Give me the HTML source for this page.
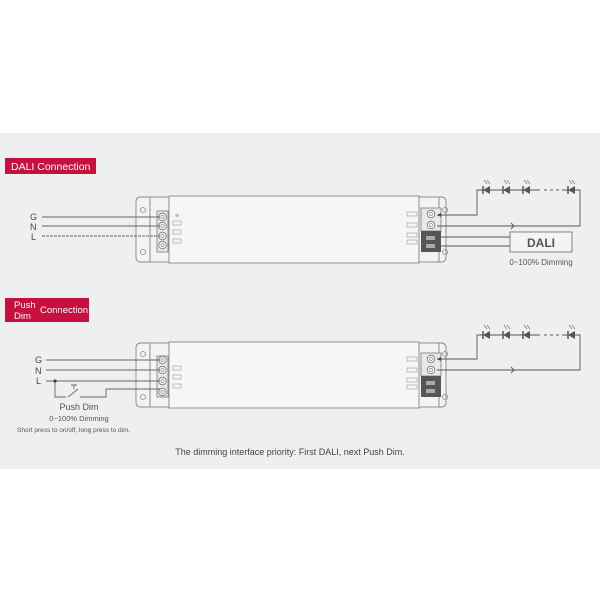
<!DOCTYPE html>
<html><head><style>
html,body{margin:0;padding:0;background:#fff;}
svg{display:block;font-family:"Liberation Sans",sans-serif;}
</style></head><body>
<svg width="600" height="600" viewBox="0 0 600 600" xmlns="http://www.w3.org/2000/svg">
<rect x="0" y="133" width="600" height="336" fill="#eeeff0"/>
<defs>
<g id="led">
<polygon points="4,-4 4,4 -3,0" fill="#555"/>
<line x1="-3" y1="-4" x2="-3" y2="4" stroke="#555" stroke-width="1.5"/>
<line x1="1" y1="-6" x2="-2" y2="-10" stroke="#777" stroke-width="0.7"/>
<line x1="4" y1="-6" x2="1" y2="-10" stroke="#777" stroke-width="0.7"/>
</g>
<g id="screw"><circle r="3.8" fill="#f4f4f4" stroke="#777" stroke-width="0.8"/><circle r="1.6" fill="none" stroke="#888" stroke-width="0.6"/></g>
</defs>

<!-- DALI section -->
<rect x="5" y="158" width="91" height="16" fill="#c8103e"/>
<text x="11" y="170" font-size="10.5" fill="#fff">DALI Connection</text>

<g stroke="#888" stroke-width="0.9" fill="#f3f3f4">
<path d="M150 197 H141 Q136 197 136 202 V257 Q136 262 141 262 H150 Z"/>
<rect x="150" y="197" width="19" height="65"/>
<rect x="169" y="196" width="250" height="67" fill="#f6f6f7"/>
<rect x="419" y="197" width="20" height="65"/>
<path d="M439 197 H441 Q446 197 446 202 V257 Q446 262 441 262 H439 Z"/>
<rect x="157" y="211" width="11" height="41" fill="#e8e8e8"/>
<rect x="421" y="208" width="20" height="23" fill="#e8e8e8"/>
</g>
<rect x="421" y="231" width="20" height="21" fill="#555"/>
<rect x="426" y="236" width="9" height="4" fill="#aaa"/><rect x="426" y="244" width="9" height="4" fill="#aaa"/>
<circle cx="143" cy="210" r="2.5" fill="none" stroke="#888" stroke-width="0.8"/>
<circle cx="143" cy="252" r="2.5" fill="none" stroke="#888" stroke-width="0.8"/>
<circle cx="445" cy="210" r="2.5" fill="none" stroke="#888" stroke-width="0.8"/>
<circle cx="445" cy="252" r="2.5" fill="none" stroke="#888" stroke-width="0.8"/>
<use href="#screw" x="162.5" y="217"/><use href="#screw" x="162.5" y="226"/><use href="#screw" x="162.5" y="236"/><use href="#screw" x="162.5" y="245"/>
<use href="#screw" x="431" y="214"/><use href="#screw" x="431" y="225"/>
<g fill="none" stroke="#999" stroke-width="0.6">
<rect x="173" y="221" width="8" height="4"/><rect x="173" y="230" width="8" height="4"/><rect x="173" y="239" width="8" height="4"/>
<rect x="407" y="212" width="10" height="4"/><rect x="407" y="223" width="10" height="4"/><rect x="407" y="233" width="10" height="4"/><rect x="407" y="240" width="10" height="4"/>
</g>
<text x="175" y="217" font-size="5" fill="#888">⊕</text>
<g stroke="#666" stroke-width="0.9">
<line x1="42" y1="217" x2="160" y2="217"/>
<line x1="42" y1="226" x2="160" y2="226"/>
<line x1="42" y1="236" x2="160" y2="236" stroke-dasharray="3,1"/>
</g>
<text x="30" y="220" font-size="9" fill="#444">G</text>
<text x="30" y="230" font-size="9" fill="#444">N</text>
<text x="31" y="240" font-size="9" fill="#444">L</text>
<g stroke="#555" stroke-width="0.9" fill="none">
<path d="M437 215 H477 V190 H540"/>
<path d="M544 190 H560" stroke-dasharray="3,3"/>
<path d="M562 190 H580 V226 H437"/>
<line x1="441" y1="237" x2="510" y2="237"/><line x1="441" y1="246" x2="510" y2="246"/>
<path d="M511 223 L514 226 L511 229"/>
</g>
<polygon points="437,215 441,213 441,217" fill="#444"/>
<use href="#led" x="486" y="190"/>
<use href="#led" x="506" y="190"/>
<use href="#led" x="526" y="190"/>
<use href="#led" x="571" y="190"/>
<rect x="510" y="232" width="62" height="20" fill="#f4f4f5" stroke="#777" stroke-width="0.9"/>
<text x="541" y="247" font-size="12" font-weight="bold" fill="#555" text-anchor="middle">DALI</text>
<text x="541" y="265" font-size="8" fill="#555" text-anchor="middle">0~100% Dimming</text>

<!-- Push Dim section -->
<rect x="5" y="298" width="84" height="24" fill="#c8103e"/>
<text x="14" y="308" font-size="9.5" fill="#fff">Push</text>
<text x="14" y="319" font-size="9.5" fill="#fff">Dim</text>
<text x="40" y="313" font-size="9.5" fill="#fff">Connection</text>

<g stroke="#888" stroke-width="0.9" fill="#f3f3f4">
<path d="M150 343 H141 Q136 343 136 348 V402 Q136 407 141 407 H150 Z"/>
<rect x="150" y="343" width="19" height="64"/>
<rect x="169" y="342" width="250" height="66" fill="#f6f6f7"/>
<rect x="419" y="343" width="20" height="64"/>
<path d="M439 343 H441 Q446 343 446 348 V402 Q446 407 441 407 H439 Z"/>
<rect x="157" y="356" width="11" height="41" fill="#e8e8e8"/>
<rect x="421" y="353" width="20" height="23" fill="#e8e8e8"/>
</g>
<rect x="421" y="376" width="20" height="21" fill="#555"/>
<rect x="426" y="381" width="9" height="4" fill="#aaa"/><rect x="426" y="389" width="9" height="4" fill="#aaa"/>
<circle cx="143" cy="354" r="2.5" fill="none" stroke="#888" stroke-width="0.8"/>
<circle cx="143" cy="397" r="2.5" fill="none" stroke="#888" stroke-width="0.8"/>
<circle cx="445" cy="354" r="2.5" fill="none" stroke="#888" stroke-width="0.8"/>
<circle cx="445" cy="397" r="2.5" fill="none" stroke="#888" stroke-width="0.8"/>
<use href="#screw" x="162.5" y="360"/><use href="#screw" x="162.5" y="370"/><use href="#screw" x="162.5" y="381"/><use href="#screw" x="162.5" y="392"/>
<use href="#screw" x="431" y="359"/><use href="#screw" x="431" y="370"/>
<g fill="none" stroke="#999" stroke-width="0.6">
<rect x="173" y="366" width="8" height="4"/><rect x="173" y="375" width="8" height="4"/><rect x="173" y="384" width="8" height="4"/>
<rect x="407" y="357" width="10" height="4"/><rect x="407" y="368" width="10" height="4"/><rect x="407" y="378" width="10" height="4"/><rect x="407" y="385" width="10" height="4"/>
</g>
<g stroke="#666" stroke-width="0.9" fill="none">
<line x1="46" y1="360" x2="160" y2="360"/>
<line x1="46" y1="370" x2="160" y2="370"/>
<line x1="46" y1="381" x2="160" y2="381"/>
<path d="M55 381 V397 H66"/>
<path d="M68 397 L78 389"/>
<path d="M80 397 H106 V389 H160"/>
<path d="M74 389 V385 M71 385 H77"/>
</g>
<circle cx="55" cy="381" r="1.6" fill="#444"/>
<text x="35" y="363" font-size="9" fill="#444">G</text>
<text x="35" y="374" font-size="9" fill="#444">N</text>
<text x="36" y="384" font-size="9" fill="#444">L</text>
<text x="79" y="410" font-size="9" fill="#555" text-anchor="middle">Push Dim</text>
<text x="79" y="421" font-size="7.5" fill="#555" text-anchor="middle">0~100% Dimming</text>
<text x="17" y="432" font-size="6.5" fill="#555">Short press to on/off, long press to dim.</text>
<g stroke="#555" stroke-width="0.9" fill="none">
<path d="M437 359 H477 V335 H540"/>
<path d="M544 335 H560" stroke-dasharray="3,3"/>
<path d="M562 335 H580 V370 H437"/>
<path d="M511 367 L514 370 L511 373"/>
</g>
<polygon points="437,359 441,357 441,361" fill="#444"/>
<use href="#led" x="486" y="335"/>
<use href="#led" x="506" y="335"/>
<use href="#led" x="526" y="335"/>
<use href="#led" x="571" y="335"/>

<text x="290" y="455" font-size="9" fill="#444" text-anchor="middle">The dimming interface priority: First DALI, next Push Dim.</text>
</svg>
</body></html>
